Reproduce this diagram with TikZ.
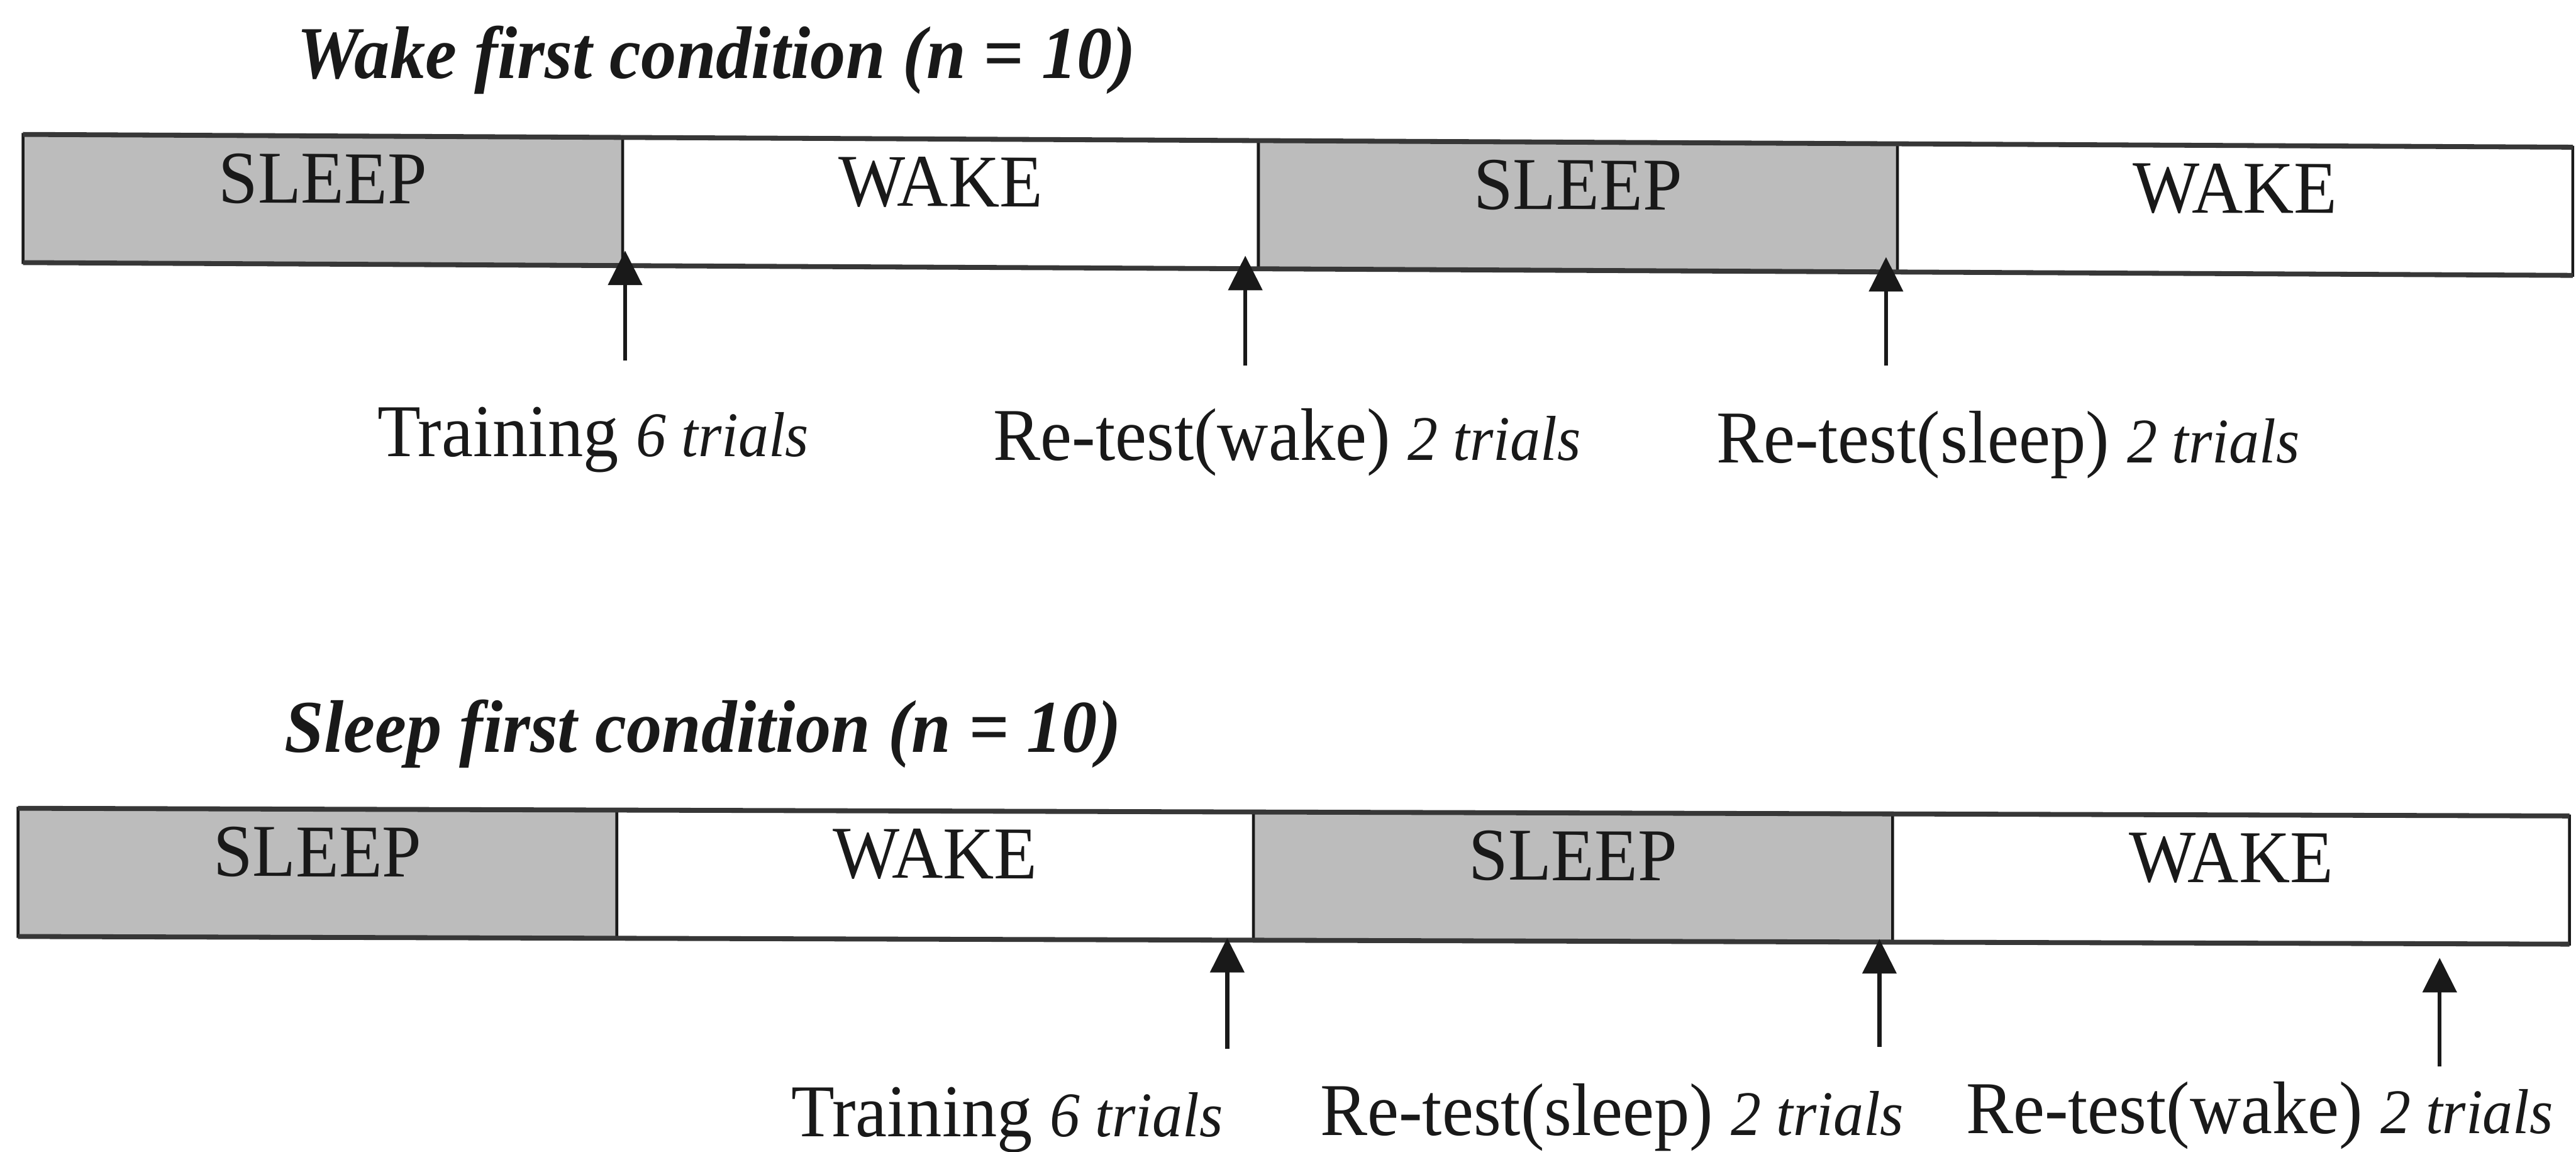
\documentclass[tikz,border=0pt]{standalone}
\usepackage{fontspec}
\setmainfont{Liberation Serif}[
  FakeStretch=0.95,
  UprightFont=*,
  BoldFont=* Bold,
  ItalicFont=* Italic,
  BoldItalicFont=* Bold Italic]
\usetikzlibrary{arrows.meta}

\definecolor{sleepfill}{RGB}{188,188,188}
\definecolor{rulegray}{RGB}{55,55,55}
\definecolor{ink}{RGB}{25,25,25}

% smaller italic trial counts after each phase name
\newcommand{\trialcount}[1]{{\fontsize{11pt}{12pt}\selectfont\itshape #1}}

\begin{document}
\begin{tikzpicture}[
  font=\fontsize{12.9pt}{15pt}\selectfont,
  seg/.style={rectangle, draw=ink, line width=0.5pt, inner sep=0pt, outer sep=0pt,
    anchor=north west, minimum height=0.78cm, text height=0.3cm, text depth=0.26cm, text=ink},
  sleepseg/.style={seg, fill=sleepfill},
  wakeseg/.style={seg, fill=white},
  barline/.style={draw=rulegray, line width=0.85pt},
  marker/.style={draw=ink, line width=0.7pt, -{Triangle[width=0.205cm,length=0.21cm]}},
  phase/.style={anchor=base west, inner sep=0pt, text=ink},
  heading/.style={anchor=base west, inner sep=0pt, text=ink,
    font=\fontsize{12.9pt}{15pt}\selectfont\bfseries\itshape}
]
\useasboundingbox (0,0) rectangle (15.68,-7.007);

% ---------------- Wake first condition ----------------
\node[heading] (title1) at (1.80,-0.475) {Wake first condition (n = 10)};

\begin{scope}[shift={(0.14,-0.818)}, yslant=-0.005, transform shape]
  \node[sleepseg, minimum width=3.65cm] (a1) at (0,0)     {SLEEP};
  \node[wakeseg,  minimum width=3.87cm] (a2) at (3.65,0)  {WAKE};
  \node[sleepseg, minimum width=3.89cm] (a3) at (7.52,0)  {SLEEP};
  \node[wakeseg,  minimum width=4.11cm] (a4) at (11.41,0) {WAKE};
  \draw[barline] (a1.north west) -- (a4.north east);
  \draw[barline] (a1.south west) -- (a4.south east);
\end{scope}

\coordinate (ta1) at (3.805,-2.195);  \coordinate (ha1) at (3.805,-1.525);
\coordinate (ta2) at (7.58,-2.226);   \coordinate (ha2) at (7.58,-1.556);
\coordinate (ta3) at (11.48,-2.226);  \coordinate (ha3) at (11.48,-1.564);
\draw[marker] (ta1) -- (ha1);
\draw[marker] (ta2) -- (ha2);
\draw[marker] (ta3) -- (ha3);

\node[phase] (la1) at (2.29,-2.778)  {Training \trialcount{6 trials}};
\node[phase] (la2) at (6.04,-2.80)   {Re-test(wake) \trialcount{2 trials}};
\node[phase] (la3) at (10.44,-2.815) {Re-test(sleep) \trialcount{2 trials}};

% ---------------- Sleep first condition ----------------
\node[heading] (title2) at (1.725,-4.575) {Sleep first condition (n = 10)};

\begin{scope}[shift={(0.11,-4.918)}, yslant=-0.003, transform shape]
  \node[sleepseg, minimum width=3.645cm] (b1) at (0,0)     {SLEEP};
  \node[wakeseg,  minimum width=3.875cm] (b2) at (3.645,0) {WAKE};
  \node[sleepseg, minimum width=3.89cm]  (b3) at (7.52,0)  {SLEEP};
  \node[wakeseg,  minimum width=4.12cm]  (b4) at (11.41,0) {WAKE};
  \draw[barline] (b1.north west) -- (b4.north east);
  \draw[barline] (b1.south west) -- (b4.south east);
\end{scope}

\coordinate (tb1) at (7.47,-6.383);   \coordinate (hb1) at (7.47,-5.707);
\coordinate (tb2) at (11.44,-6.369);  \coordinate (hb2) at (11.44,-5.714);
\coordinate (tb3) at (14.85,-6.49);   \coordinate (hb3) at (14.85,-5.828);
\draw[marker] (tb1) -- (hb1);
\draw[marker] (tb2) -- (hb2);
\draw[marker] (tb3) -- (hb3);

\node[phase] (lb1) at (4.81,-6.915)  {Training \trialcount{6 trials}};
\node[phase] (lb2) at (8.03,-6.909)  {Re-test(sleep) \trialcount{2 trials}};
\node[phase] (lb3) at (11.96,-6.895) {Re-test(wake) \trialcount{2 trials}};
\end{tikzpicture}
\end{document}
